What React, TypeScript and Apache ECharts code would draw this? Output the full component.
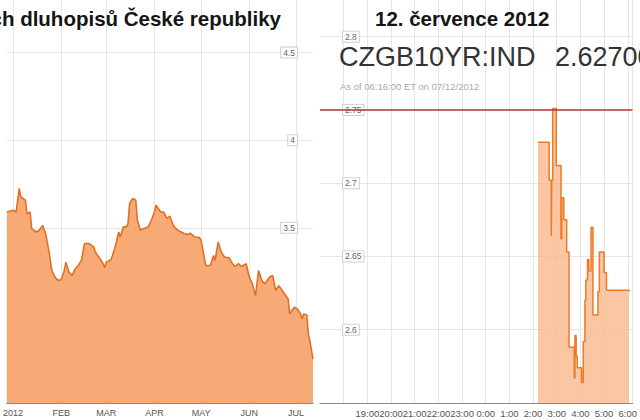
import React, { useEffect, useRef } from "react";
import * as echarts from "echarts";

// ---- Left chart: daily yield of 10Y Czech government bond (2012) ----
const monthNames: Record<string, string> = {
  "01": "2012", "02": "FEB", "03": "MAR", "04": "APR", "05": "MAY", "06": "JUN", "07": "JUL",
};
const leftStart = "2011-12-28";
const leftEnd = "2012-07-12";
const leftDates = [
  "2011-12-28", "2012-01-01", "2012-01-03", "2012-01-05", "2012-01-06", "2012-01-09", "2012-01-10",
  "2012-01-12", "2012-01-13", "2012-01-16", "2012-01-18", "2012-01-20", "2012-01-22", "2012-01-24",
  "2012-01-26", "2012-01-28", "2012-01-30", "2012-02-01", "2012-02-03", "2012-02-04", "2012-02-06",
  "2012-02-08", "2012-02-10", "2012-02-12", "2012-02-14", "2012-02-16", "2012-02-19", "2012-02-22",
  "2012-02-23", "2012-02-26", "2012-02-28", "2012-02-29", "2012-03-01", "2012-03-04", "2012-03-05",
  "2012-03-07", "2012-03-09", "2012-03-10", "2012-03-12", "2012-03-14", "2012-03-15", "2012-03-16",
  "2012-03-18", "2012-03-20", "2012-03-21", "2012-03-23", "2012-03-25", "2012-03-28", "2012-03-30",
  "2012-04-01", "2012-04-02", "2012-04-05", "2012-04-07", "2012-04-09", "2012-04-11", "2012-04-13",
  "2012-04-16", "2012-04-20", "2012-04-23", "2012-04-24", "2012-04-27", "2012-04-30", "2012-05-01",
  "2012-05-03", "2012-05-04", "2012-05-07", "2012-05-09", "2012-05-10", "2012-05-12", "2012-05-14",
  "2012-05-16", "2012-05-19", "2012-05-21", "2012-05-23", "2012-05-25", "2012-05-27", "2012-05-30",
  "2012-06-01", "2012-06-03", "2012-06-05", "2012-06-07", "2012-06-09", "2012-06-11", "2012-06-14",
  "2012-06-16", "2012-06-18", "2012-06-20", "2012-06-23", "2012-06-26", "2012-06-27", "2012-06-30",
  "2012-07-02", "2012-07-04", "2012-07-05", "2012-07-06", "2012-07-08", "2012-07-09", "2012-07-10",
  "2012-07-12",
];
const leftYields = [
  3.59, 3.6, 3.59, 3.725, 3.676, 3.658, 3.58,
  3.59, 3.495, 3.476, 3.486, 3.514, 3.467, 3.371,
  3.256, 3.218, 3.2, 3.203, 3.256, 3.304, 3.247,
  3.228, 3.266, 3.285, 3.314, 3.41, 3.41, 3.39,
  3.361, 3.323, 3.295, 3.272, 3.304, 3.318, 3.342,
  3.4, 3.476, 3.447, 3.505, 3.505, 3.524, 3.639,
  3.667, 3.658, 3.543, 3.486, 3.495, 3.505, 3.543,
  3.59, 3.629, 3.59, 3.59, 3.553, 3.566, 3.514,
  3.486, 3.467, 3.461, 3.47, 3.447, 3.444, 3.428,
  3.333, 3.285, 3.285, 3.342, 3.314, 3.419, 3.361,
  3.333, 3.329, 3.298, 3.279, 3.295, 3.279, 3.295,
  3.218, 3.18, 3.113, 3.256, 3.2, 3.18, 3.218,
  3.228, 3.142, 3.17, 3.132, 3.094, 3.008, 3.046,
  3.037, 3.008, 2.98, 3.008, 3.004, 2.894, 2.855,
  2.75,
];

// ---- Right chart: intraday CZGB10YR:IND, 12 July 2012 (hours, 24+ = next day) ----
const rightHours = [
  26.21, 26.68, 26.77, 26.79, 26.83, 26.98, 27.18, 27.21, 27.3, 27.42,
  27.52, 27.74, 27.77, 27.82, 27.87, 28.05, 28.12, 28.19, 28.23, 28.3,
  28.36, 28.45, 28.53, 28.74, 28.8, 29.0, 29.1, 30.05,
];
const rightYields = [
  2.728, 2.702, 2.664, 2.702, 2.751, 2.712, 2.662, 2.69, 2.675, 2.653,
  2.588, 2.567, 2.596, 2.582, 2.574, 2.564, 2.592, 2.62, 2.634, 2.648,
  2.64, 2.67, 2.61, 2.626, 2.653, 2.639, 2.627, 2.626,
];
const dayHigh = 2.75;

const titleLeft = "Výnos 10letých státních dluhopisů České republiky";
const titleRight = "12. července 2012";
const tickerText = "CZGB10YR:IND";
const priceText = "2.62700";
const asOfText = "As of 06:16:00 ET on 07/12/2012";

function buildDays(start: string, end: string): string[] {
  const out: string[] = [];
  let t = Date.parse(start + "T00:00:00Z");
  const e = Date.parse(end + "T00:00:00Z");
  while (t <= e) {
    out.push(new Date(t).toISOString().slice(0, 10));
    t += 86400000;
  }
  return out;
}

const FONT = '"Liberation Sans", Arial, sans-serif';

export default function App() {
  const ref = useRef<HTMLDivElement>(null);
  useEffect(() => {
    if (!ref.current) return;
    const chart = echarts.init(ref.current, undefined, { renderer: "svg" });
    const days = buildDays(leftStart, leftEnd);
    const isMonthStart = (_i: number, v: string) => v.slice(8, 10) === "01";
    const labelBox = {
      backgroundColor: "#fff",
      borderColor: "#d0d0d0",
      borderWidth: 1,
      padding: [1, 2, 0, 2],
      fontSize: 8.5,
      color: "#666",
      fontFamily: FONT,
    };
    chart.setOption({
      animation: false,
      backgroundColor: "#fff",
      textStyle: { fontFamily: FONT },
      grid: [
        { left: 0, right: 327, top: 0, bottom: 17 },
        { left: 320, right: 0, top: 0, bottom: 17 },
      ],
      xAxis: [
        {
          type: "category",
          gridIndex: 0,
          data: days,
          boundaryGap: false,
          axisLine: { lineStyle: { color: "#888", width: 1 } },
          axisTick: { show: false },
          axisLabel: {
            interval: isMonthStart,
            formatter: (v: string) => monthNames[v.slice(5, 7)] || "",
            fontSize: 9,
            color: "#555",
            margin: 5,
            hideOverlap: false,
          },
          splitLine: { show: true, interval: isMonthStart, lineStyle: { color: "#e6e6e6" } },
        },
        {
          type: "value",
          gridIndex: 1,
          min: 17,
          max: 30.2,
          interval: 1,
          axisLine: { lineStyle: { color: "#888", width: 1 } },
          axisTick: { show: false },
          axisLabel: {
            formatter: (v: number) => (v < 18.5 || v > 30.1 ? "" : (Math.round(v) % 24) + ":00"),
            fontSize: 9.5,
            color: "#555",
            margin: 5,
            hideOverlap: false,
          },
          splitLine: { show: true, showMinLine: false, lineStyle: { color: "#e6e6e6" } },
        },
      ],
      yAxis: [
        {
          type: "value",
          gridIndex: 0,
          position: "right",
          min: 2.5,
          max: 4.8,
          interval: 0.5,
          axisLine: { show: false },
          axisTick: { show: false },
          axisLabel: {
            inside: true,
            margin: 16,
            showMinLabel: false,
            showMaxLabel: false,
            formatter: (v: number) => String(Math.round(v * 100) / 100),
            ...labelBox,
          },
          splitLine: { show: true, showMinLine: false, showMaxLine: false, lineStyle: { color: "#e6e6e6" } },
        },
        {
          type: "value",
          gridIndex: 1,
          position: "left",
          min: 2.55,
          max: 2.825,
          interval: 0.05,
          axisLine: { show: false },
          axisTick: { show: false },
          axisLabel: {
            inside: true,
            margin: 23,
            showMinLabel: false,
            showMaxLabel: false,
            formatter: (v: number) => String(Math.round(v * 100) / 100),
            ...labelBox,
          },
          splitLine: { show: true, showMinLine: false, showMaxLine: false, lineStyle: { color: "#e6e6e6" } },
        },
      ],
      series: [
        {
          type: "line",
          xAxisIndex: 0,
          yAxisIndex: 0,
          data: leftDates.map((d, i) => [d, leftYields[i]]),
          showSymbol: false,
          lineStyle: { color: "#DF7127", width: 1.6 },
          areaStyle: { color: "#F8A46C", opacity: 0.93 },
          z: 2,
        },
        {
          type: "line",
          xAxisIndex: 1,
          yAxisIndex: 1,
          step: "end",
          data: rightHours.map((h, i) => [h, rightYields[i]]),
          showSymbol: false,
          lineStyle: { color: "#EE7A26", width: 1.5 },
          areaStyle: { color: "#F9B88C", opacity: 0.8 },
          markLine: {
            silent: true,
            symbol: "none",
            label: { show: false },
            lineStyle: { color: "#B8352F", width: 1.5, type: "solid" },
            data: [{ yAxis: dayHigh }],
          },
          z: 2,
        },
      ],
      graphic: [
        {
          type: "text",
          x: 281,
          y: 18,
          z: 10,
          style: {
            text: titleLeft,
            textAlign: "right",
            textVerticalAlign: "middle",
            fontSize: 20.5,
            fontWeight: "bold",
            fontFamily: FONT,
            fill: "#151515",
          },
        },
        {
          type: "text",
          x: 375,
          y: 18,
          z: 10,
          style: {
            text: titleRight,
            textAlign: "left",
            textVerticalAlign: "middle",
            fontSize: 20.5,
            fontWeight: "bold",
            fontFamily: FONT,
            fill: "#151515",
          },
        },
        {
          type: "text",
          x: 339,
          y: 57,
          z: 10,
          style: {
            text: tickerText,
            textAlign: "left",
            textVerticalAlign: "middle",
            fontSize: 27,
            fontFamily: FONT,
            fill: "#333",
          },
        },
        {
          type: "text",
          x: 555,
          y: 57,
          z: 10,
          style: {
            text: priceText,
            textAlign: "left",
            textVerticalAlign: "middle",
            fontSize: 27,
            fontFamily: FONT,
            fill: "#333",
          },
        },
        {
          type: "text",
          x: 340,
          y: 86,
          z: 10,
          style: {
            text: asOfText,
            textAlign: "left",
            textVerticalAlign: "middle",
            fontSize: 9.5,
            fontFamily: FONT,
            fill: "#aaa",
          },
        },
      ],
    });
    return () => chart.dispose();
  }, []);
  return (
    <div
      ref={ref}
      style={{ position: "fixed", left: 0, top: 0, width: 640, height: 420 }}
    />
  );
}
